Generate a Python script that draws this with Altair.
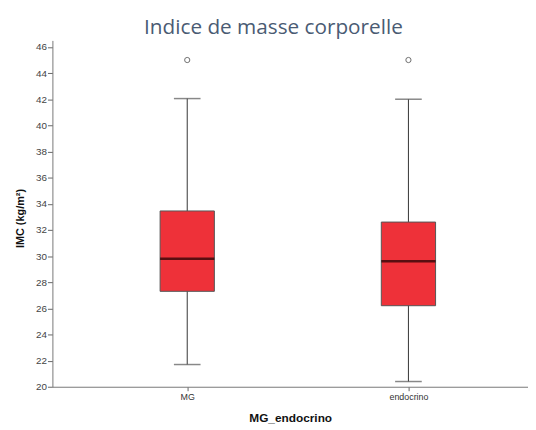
import altair as alt
import pandas as pd

groups = ["MG", "endocrino"]
lower = [21.7, 20.4]
q1 = [27.3, 26.2]
median = [29.8, 29.6]
q3 = [33.45, 32.6]
upper = [42.05, 42.0]
out_groups = ["MG", "endocrino"]
out_values = [45.0, 45.0]
y_ticks = [20, 22, 24, 26, 28, 30, 32, 34, 36, 38, 40, 42, 44, 46]

df = pd.DataFrame({"g": groups, "lo": lower, "q1": q1, "med": median, "q3": q3, "hi": upper})
dout = pd.DataFrame({"g": out_groups, "v": out_values})

xenc = alt.X("g:N", sort=groups, title="MG_endocrino",
             scale=alt.Scale(type="point", padding=0.575, align=0.53),
             axis=alt.Axis(labelAngle=0, labelFontSize=9, labelColor="#333", labelFont="Arial",
                           tickSize=4, tickColor="#666", domainColor="#777", labelPadding=2, grid=False,
                           titleFont="Arial", titleFontSize=12, titleFontWeight="bold", titleColor="#111",
                           titleBaseline="middle", titleY=31))
yscale = alt.Scale(domain=[20, 46.5], nice=False, zero=False)
yaxis = alt.Axis(values=y_ticks, grid=False, tickSize=5, tickColor="#666", domainColor="#777",
                 labelFontSize=10, labelColor="#444", labelFont="Arial", labelPadding=1, labelOverlap=False,
                 labelFlush=False,
                 titleFont="Arial", titleFontSize=11, titleFontWeight="bold", titleColor="#111",
                 titleBaseline="middle", titleX=-32, titleY=180, titleAngle=-90)

def Y(field):
    return alt.Y(field, scale=yscale, axis=yaxis, title="IMC (kg/m²)")

base = alt.Chart(df)
whisk = base.mark_rule(color="#333", strokeWidth=1).encode(x=xenc, y=Y("lo:Q"), y2="hi:Q")
box = base.mark_bar(size=55, color="#EE3139", stroke="#555", strokeWidth=1).encode(
    x=xenc, y=Y("q1:Q"), y2="q3:Q")
cap_lo = base.mark_tick(size=27, thickness=1.5, color="#555").encode(x=xenc, y=Y("lo:Q"))
cap_hi = base.mark_tick(size=27, thickness=1.5, color="#555").encode(x=xenc, y=Y("hi:Q"))
med = base.mark_tick(size=55, thickness=2.5, color="#1a0000").encode(x=xenc, y=Y("med:Q"))
outl = alt.Chart(dout).mark_point(shape="circle", size=28, filled=False, color="#333", strokeWidth=1).encode(
    x=xenc, y=Y("v:Q"))

chart = alt.layer(whisk, box, cap_lo, cap_hi, med, outl).properties(
    width=482, height=351,
    autosize=alt.AutoSizeParams(type="none"),
    padding={"left": 45, "top": 30, "right": 0, "bottom": 42},
    view=alt.ViewBackground(stroke="transparent", strokeOpacity=0),
    title=alt.TitleParams("Indice de masse corporelle", font="Open Sans", fontSize=21, fontWeight="normal",
                          color="#4A5B73", anchor="middle", dx=-17, offset=3, frame="group"),
).configure_view(stroke="transparent", strokeWidth=0, strokeOpacity=0).configure(background="white")

chart.save("out.html", embed_options={"renderer": "svg", "actions": False})
